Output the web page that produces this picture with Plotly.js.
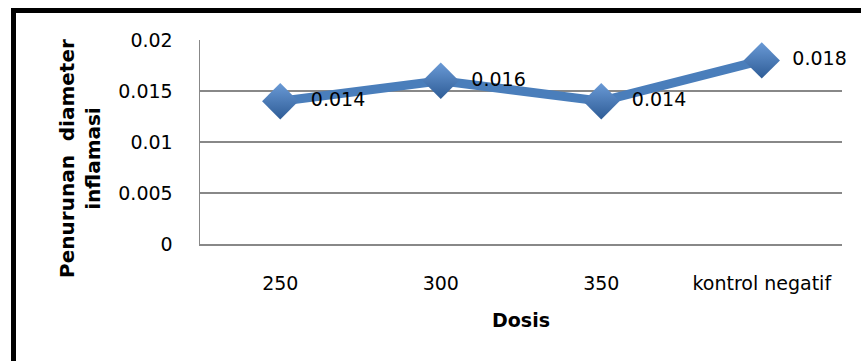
<!DOCTYPE html>
<html>
<head>
<meta charset="utf-8">
<script src="https://cdn.plot.ly/plotly-3.0.1.min.js"></script>
<style>
  html, body { margin: 0; padding: 0; background: #fff; }
  #wrap { position: relative; width: 861px; height: 361px; overflow: hidden; }
  #chart { position: absolute; left: 0; top: 0; width: 861px; height: 361px; }
  #frame { position: absolute; left: 11px; top: 8px; width: 860px; height: 360px;
           border-left: 5px solid #000; border-top: 5px solid #000; pointer-events: none; }
</style>
</head>
<body>
<div id="wrap">
  <div id="chart"></div>
  <div id="frame"></div>
</div>
<script>
const categories = ['250', '300', '350', 'kontrol negatif'];
const values = [0.014, 0.016, 0.014, 0.018];
const valueLabels = ['0.014', '0.016', '0.014', '0.018'];
const yTickVals = [0, 0.005, 0.01, 0.015, 0.02];
const yTickText = ['0', '0.005', '0.01', '0.015', '0.02'];
const xTitle = 'Dosis';
const yTitle = 'Penurunan  diameter<br>inflamasi';

const FONT = 'DejaVu Sans, Liberation Sans, sans-serif';

const trace = {
  type: 'scatter',
  mode: 'lines+markers+text',
  x: categories,
  y: values,
  text: valueLabels.map(t => '  ' + t),
  textposition: 'middle right',
  textfont: { family: FONT, size: 19, color: '#000' },
  line: { color: '#4a7ebb', width: 9 },
  marker: {
    symbol: 'diamond',
    size: 28,
    color: '#6a9ad6',
    gradient: { type: 'vertical', color: '#2e5c96' },
    line: { width: 0 }
  },
  cliponaxis: false,
  hoverinfo: 'skip'
};

const layout = {
  width: 861,
  height: 361,
  margin: { l: 200, r: 19, t: 40, b: 117 },
  paper_bgcolor: '#fff',
  plot_bgcolor: '#fff',
  showlegend: false,
  font: { family: FONT, color: '#000' },
  xaxis: {
    type: 'category',
    range: [-0.5, 3.5],
    showgrid: false,
    showline: true,
    linecolor: '#888',
    linewidth: 1.5,
    ticks: 'outside',
    ticklen: 22,
    tickcolor: 'rgba(0,0,0,0)',
    tickfont: { family: FONT, size: 19, color: '#000' },
    title: { text: xTitle, font: { family: FONT, size: 19, color: '#000', weight: 'bold' }, standoff: 20 },
    zeroline: false,
    fixedrange: true
  },
  yaxis: {
    range: [0, 0.02],
    tickvals: yTickVals,
    ticktext: yTickText,
    showgrid: true,
    gridcolor: '#888',
    gridwidth: 1.5,
    showline: true,
    linecolor: '#888',
    linewidth: 1.5,
    zeroline: false,
    ticks: 'outside',
    ticklen: 22,
    tickcolor: 'rgba(0,0,0,0)',
    tickfont: { family: FONT, size: 19, color: '#000' },
    fixedrange: true
  },
  annotations: [{
    text: '<b>' + yTitle + '</b>',
    xref: 'paper', yref: 'paper',
    x: -0.186, y: 0.42,
    xanchor: 'center', yanchor: 'middle',
    textangle: -90,
    showarrow: false,
    font: { family: FONT, size: 20, color: '#000' }
  }]
};

Plotly.newPlot('chart', [trace], layout, { displayModeBar: false, staticPlot: true });
</script>
</body>
</html>
